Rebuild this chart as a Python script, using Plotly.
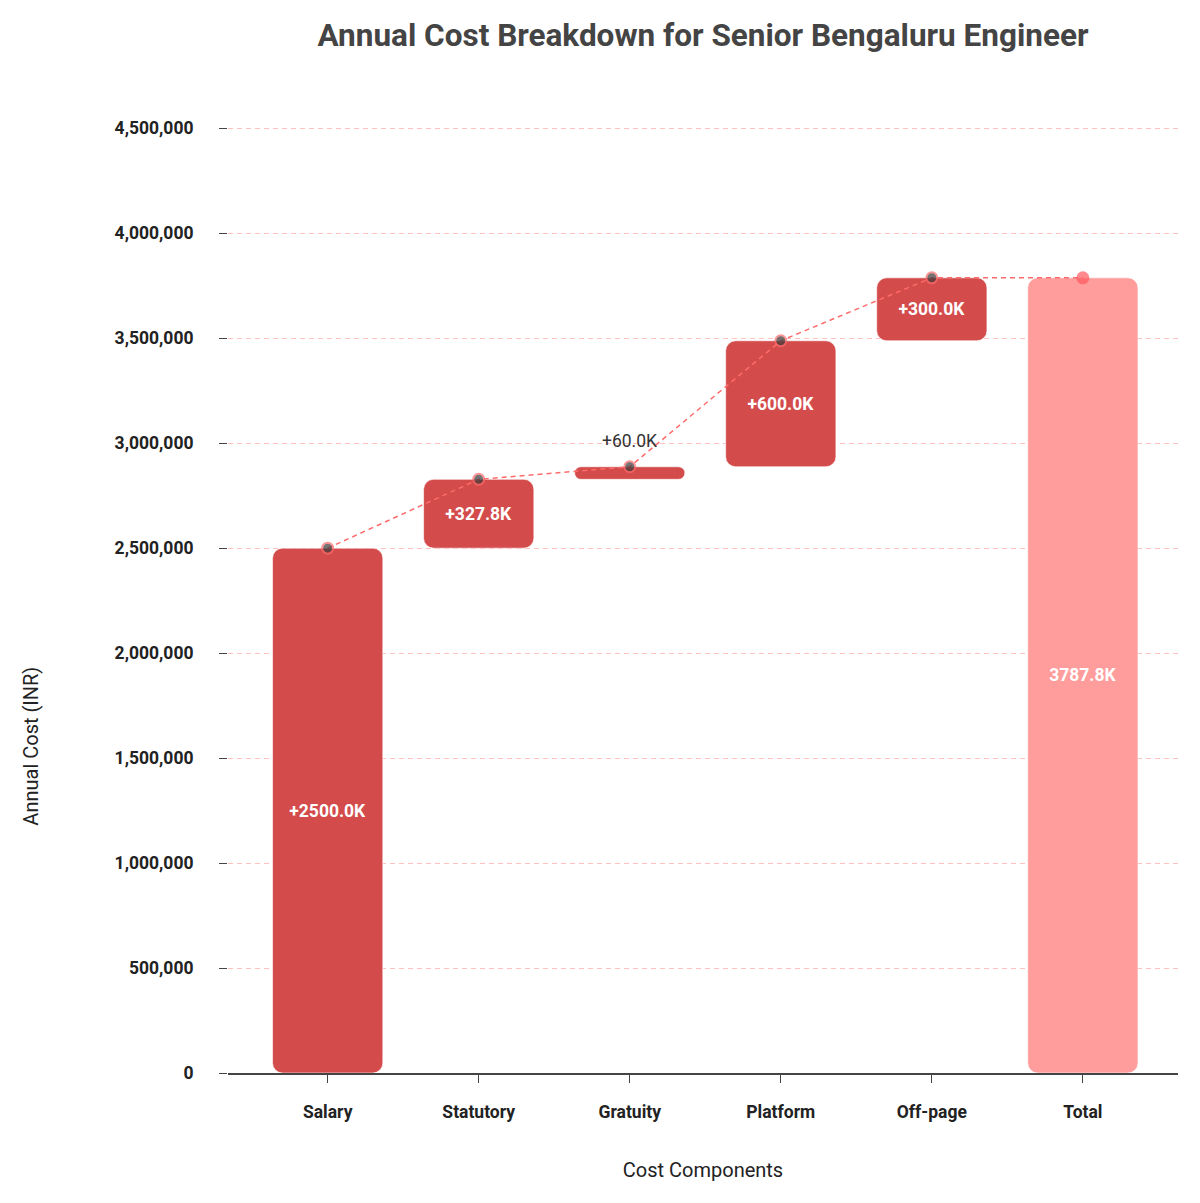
import numpy as np
import plotly.graph_objects as go

# cost components (INR per year)
components = ["Salary", "Statutory", "Gratuity", "Platform", "Off-page"]
amounts = [2500000, 327800, 60000, 600000, 300000]
total_label = "Total"
y_ticks = [0, 500000, 1000000, 1500000, 2000000, 2500000, 3000000, 3500000, 4000000, 4500000]

RED = "#D34B4B"
PINK = "#FF9C9C"
LINE = "#FF6B6B"
FONT = "Roboto"
SMALL = 150000  # steps thinner than this get their label above the bar


def build_fig():
    amt = np.array(amounts, dtype=float)
    tops = np.cumsum(amt)
    bases = tops - amt
    total = tops[-1]

    cats = components + [total_label]
    labels = ["+%.1fK" % (v / 1000) for v in amt]
    inside = [l if v >= SMALL else "" for l, v in zip(labels, amt)]

    fig = go.Figure()

    # step bars
    fig.add_trace(go.Bar(
        x=components, y=amt, base=bases,
        width=0.73,
        marker=dict(color=RED, cornerradius=10,
                    line=dict(color="rgba(255,255,255,0.6)", width=1)),
        text=inside, textposition="inside",
        insidetextanchor="middle",
        insidetextfont=dict(family=FONT, size=17.5, color="white", weight="bold"),
        hoverinfo="skip", showlegend=False,
    ))

    # labels for the thin steps, above the bar
    for c, v, t, l in zip(components, amt, tops, labels):
        if v < SMALL:
            fig.add_annotation(x=c, y=t, text=l, showarrow=False,
                               yanchor="bottom", yshift=14,
                               font=dict(family=FONT, size=17.5, color="#333333"))

    # total bar
    fig.add_trace(go.Bar(
        x=[total_label], y=[total], base=[0],
        width=0.73,
        marker=dict(color=PINK, cornerradius=10,
                    line=dict(color="rgba(255,255,255,0.6)", width=1)),
        text=["%.1fK" % (total / 1000)], textposition="inside",
        insidetextanchor="middle",
        insidetextfont=dict(family=FONT, size=17.5, color="white", weight="bold"),
        hoverinfo="skip", showlegend=False,
    ))

    # connector line through the running totals
    fig.add_trace(go.Scatter(
        x=cats, y=list(tops) + [total],
        mode="lines+markers",
        line=dict(color=LINE, width=1.5, dash="5px,4px"),
        marker=dict(size=[11] * len(components) + [11],
                    color=["#3a3a3a"] * len(components) + ["#FF5A5F"],
                    line=dict(color=[LINE] * len(components) + ["#FF5A5F"], width=2)),
        cliponaxis=False,
        hoverinfo="skip", showlegend=False,
    ))

    # y title sits below the middle of the axis in the original
    fig.add_annotation(text="Annual Cost (INR)", textangle=-90,
                       xref="paper", yref="paper", x=-0.207, y=0.329,
                       showarrow=False, xanchor="center", yanchor="middle",
                       font=dict(family=FONT, size=20, color="#222222"))

    fig.update_layout(
        width=1200, height=1203,
        paper_bgcolor="white", plot_bgcolor="white",
        margin=dict(l=220, r=30, t=72, b=138),
        font=dict(family=FONT, color="#222222"),
        title=dict(text="<b>Annual Cost Breakdown for Senior Bengaluru Engineer</b>",
                   x=0.5, xref="paper", xanchor="center",
                   y=0.987, yref="container", yanchor="top",
                   font=dict(family=FONT, size=31.5, color="#444444")),
    )

    fig.update_xaxes(
        type="category", categoryorder="array", categoryarray=cats,
        range=[-0.66, 5.63],
        showline=True, linecolor="#444444", linewidth=1.5,
        ticks="outside", ticklen=8, tickcolor="#444444",
        ticklabelstandoff=14,
        tickfont=dict(family=FONT, size=17.5, color="#222222", weight="bold"),
        showgrid=False,
        title=dict(text="Cost Components", standoff=42,
                   font=dict(family=FONT, size=20, color="#222222")),
    )

    fig.update_yaxes(
        range=[0, 4730000],
        tickvals=y_ticks, tickformat=",d",
        showline=False, zeroline=False,
        ticks="outside", ticklen=8, tickcolor="#444444",
        ticklabelstandoff=22,
        showgrid=True, gridcolor="rgba(255,140,140,0.55)", griddash="5px,4px", gridwidth=1,
        tickfont=dict(family=FONT, size=17.5, color="#222222", weight="bold"),
        automargin=False,
    )
    return fig


if __name__ == "__main__":
    fig = build_fig()
    fig.write_html("out.html")
